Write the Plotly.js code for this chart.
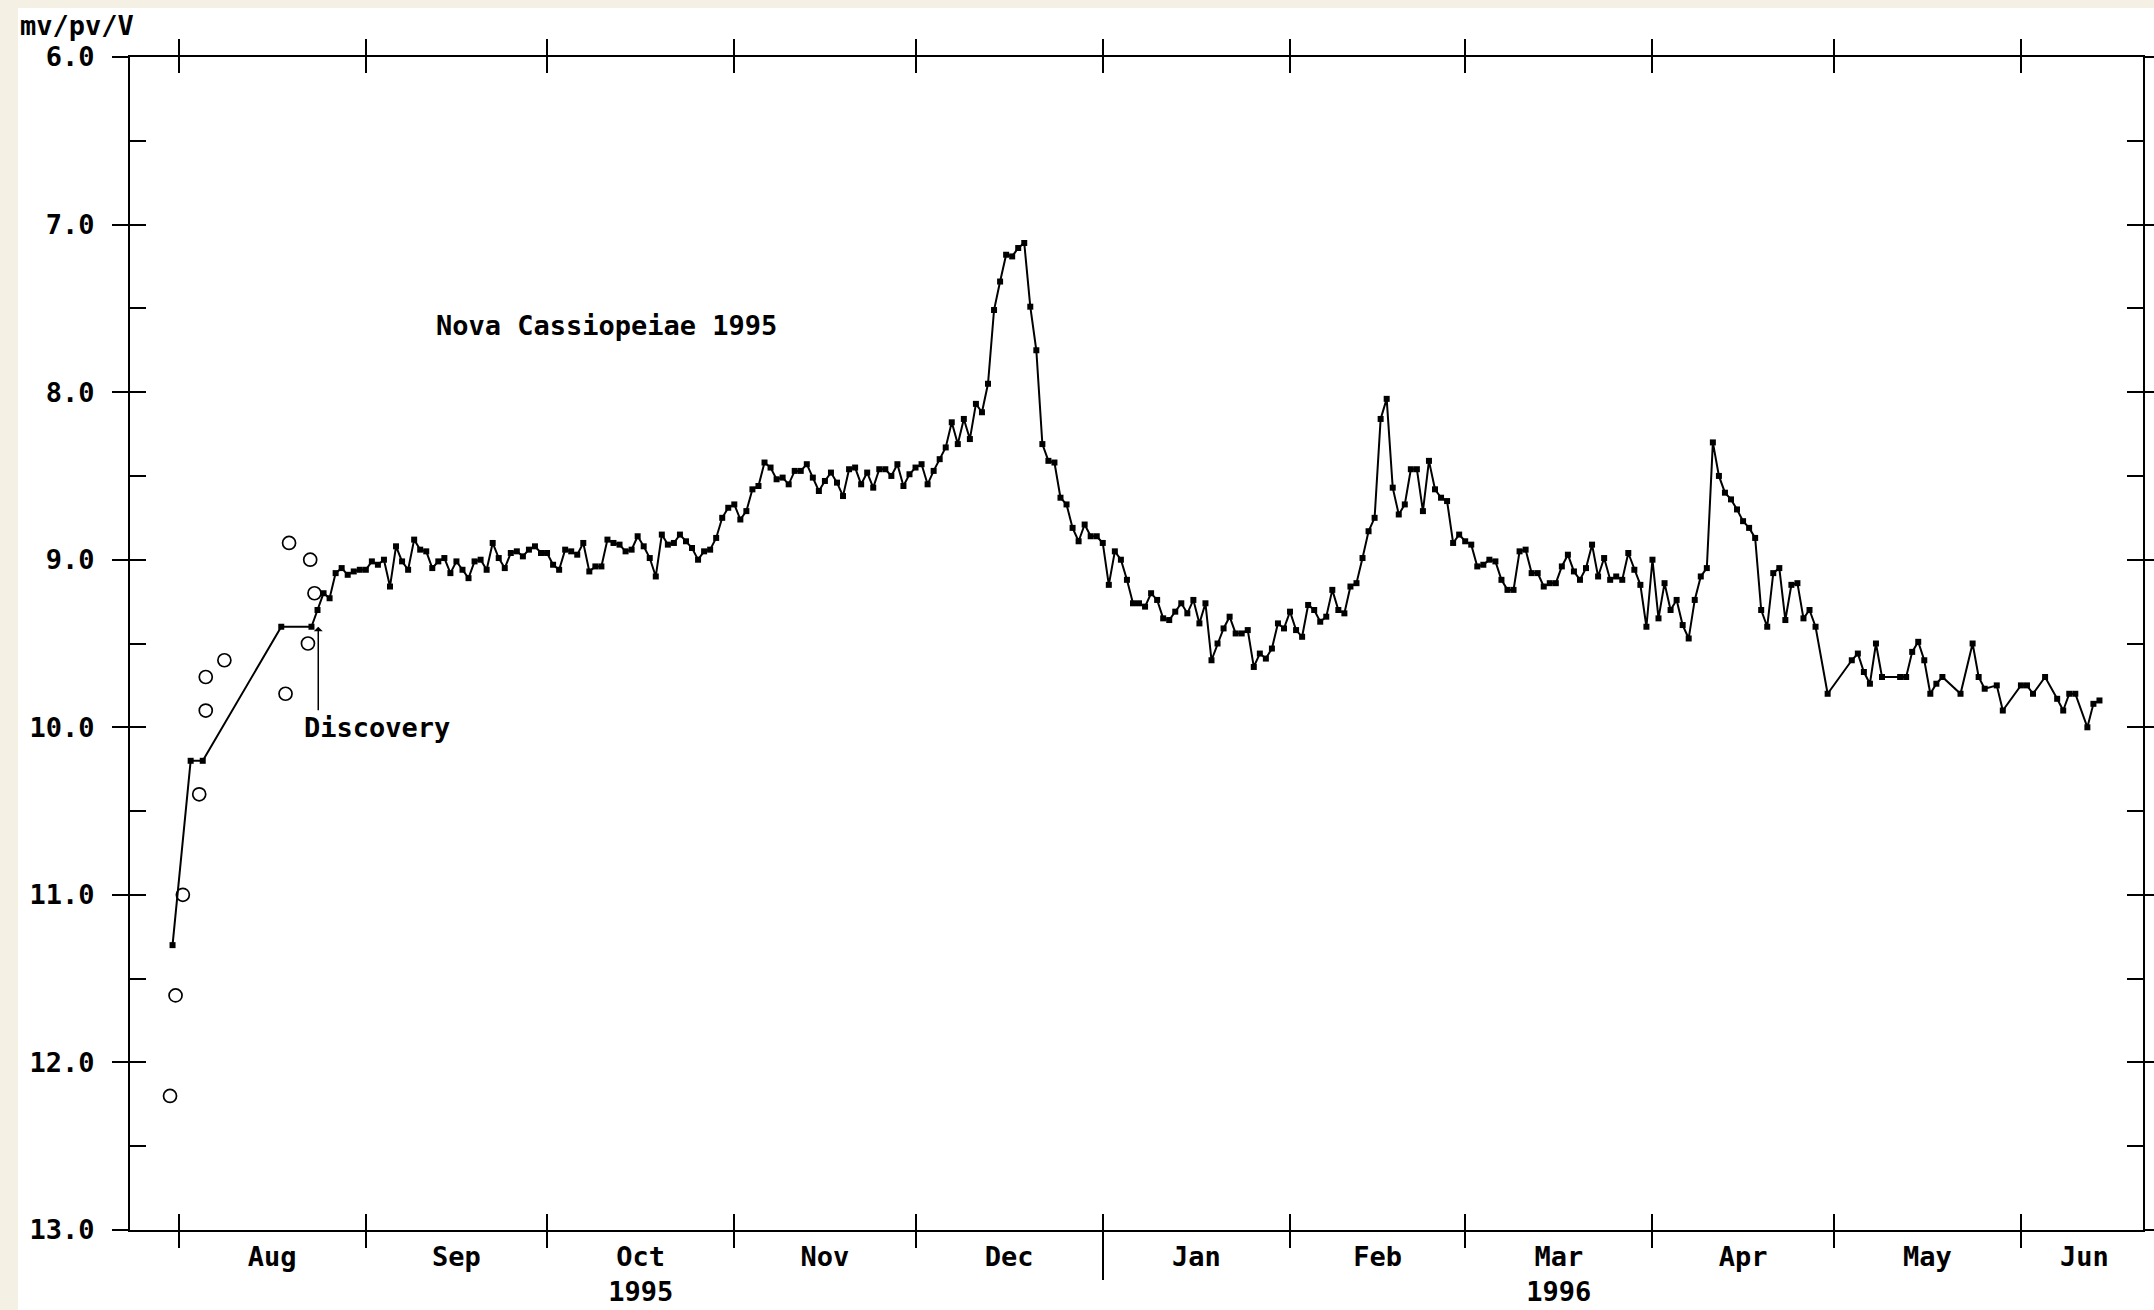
<!DOCTYPE html>
<html>
<head>
<meta charset="utf-8">
<script src="https://cdn.plot.ly/plotly-3.0.1.min.js"></script>
<style>
html,body{margin:0;padding:0;background:#f4f0e4;overflow:hidden;}
#chart{position:absolute;left:18px;top:8px;width:2136px;height:1302px;background:#ffffff;}
</style>
</head>
<body>
<div id="chart"></div>
<script>
// ---- visual estimates (mv/pv/V) ----
const obsDates = [
 '1995-07-31','1995-08-03','1995-08-05','1995-08-18','1995-08-23','1995-08-24','1995-08-25','1995-08-26','1995-08-27','1995-08-28','1995-08-29','1995-08-30','1995-08-31',
 '1995-09-01','1995-09-02','1995-09-03','1995-09-04','1995-09-05','1995-09-06','1995-09-07','1995-09-08','1995-09-09','1995-09-10',
 '1995-09-11','1995-09-12','1995-09-13','1995-09-14','1995-09-15','1995-09-16','1995-09-17','1995-09-18','1995-09-19','1995-09-20',
 '1995-09-21','1995-09-22','1995-09-23','1995-09-24','1995-09-25','1995-09-26','1995-09-27','1995-09-28','1995-09-29','1995-09-30',
 '1995-10-01','1995-10-02','1995-10-03','1995-10-04','1995-10-05','1995-10-06','1995-10-07','1995-10-08','1995-10-09','1995-10-10',
 '1995-10-11','1995-10-12','1995-10-13','1995-10-14','1995-10-15','1995-10-16','1995-10-17','1995-10-18','1995-10-19','1995-10-20',
 '1995-10-21','1995-10-22','1995-10-23','1995-10-24','1995-10-25','1995-10-26','1995-10-27','1995-10-28','1995-10-29','1995-10-30','1995-10-31',
 '1995-11-01','1995-11-02','1995-11-03','1995-11-04','1995-11-05','1995-11-06','1995-11-07','1995-11-08','1995-11-09','1995-11-10',
 '1995-11-11','1995-11-12','1995-11-13','1995-11-14','1995-11-15','1995-11-16','1995-11-17','1995-11-18','1995-11-19','1995-11-20',
 '1995-11-21','1995-11-22','1995-11-23','1995-11-24','1995-11-25','1995-11-26','1995-11-27','1995-11-28','1995-11-29','1995-11-30',
 '1995-12-01','1995-12-02','1995-12-03','1995-12-04','1995-12-05','1995-12-06','1995-12-07','1995-12-08','1995-12-09','1995-12-10',
 '1995-12-11','1995-12-12','1995-12-13','1995-12-14','1995-12-15','1995-12-16','1995-12-17','1995-12-18','1995-12-19','1995-12-20',
 '1995-12-21','1995-12-22','1995-12-23','1995-12-24','1995-12-25','1995-12-26','1995-12-27','1995-12-28','1995-12-29','1995-12-30','1995-12-31',
 '1996-01-01','1996-01-02','1996-01-03','1996-01-04','1996-01-05','1996-01-06','1996-01-07','1996-01-08','1996-01-09','1996-01-10',
 '1996-01-11','1996-01-12','1996-01-13','1996-01-14','1996-01-15','1996-01-16','1996-01-17','1996-01-18','1996-01-19','1996-01-20',
 '1996-01-21','1996-01-22','1996-01-23','1996-01-24','1996-01-25','1996-01-26','1996-01-27','1996-01-28','1996-01-29','1996-01-30','1996-01-31',
 '1996-02-01','1996-02-02','1996-02-03','1996-02-04','1996-02-05','1996-02-06','1996-02-07','1996-02-08','1996-02-09','1996-02-10',
 '1996-02-11','1996-02-12','1996-02-13','1996-02-14','1996-02-15','1996-02-16','1996-02-17','1996-02-18','1996-02-19','1996-02-20',
 '1996-02-21','1996-02-22','1996-02-23','1996-02-24','1996-02-25','1996-02-26','1996-02-27','1996-02-28','1996-02-29',
 '1996-03-01','1996-03-02','1996-03-03','1996-03-04','1996-03-05','1996-03-06','1996-03-07','1996-03-08','1996-03-09','1996-03-10',
 '1996-03-11','1996-03-12','1996-03-13','1996-03-14','1996-03-15','1996-03-16','1996-03-17','1996-03-18','1996-03-19','1996-03-20',
 '1996-03-21','1996-03-22','1996-03-23','1996-03-24','1996-03-25','1996-03-26','1996-03-27','1996-03-28','1996-03-29','1996-03-30','1996-03-31',
 '1996-04-01','1996-04-02','1996-04-03','1996-04-04','1996-04-05','1996-04-06','1996-04-07','1996-04-08','1996-04-09','1996-04-10',
 '1996-04-11','1996-04-12','1996-04-13','1996-04-14','1996-04-15','1996-04-16','1996-04-17','1996-04-18','1996-04-19','1996-04-20',
 '1996-04-21','1996-04-22','1996-04-23','1996-04-24','1996-04-25','1996-04-26','1996-04-27','1996-04-28','1996-04-30',
 '1996-05-04','1996-05-05','1996-05-06','1996-05-07','1996-05-08','1996-05-09','1996-05-12','1996-05-13','1996-05-14','1996-05-15',
 '1996-05-16','1996-05-17','1996-05-18','1996-05-19','1996-05-22','1996-05-24','1996-05-25','1996-05-26','1996-05-28','1996-05-29',
 '1996-06-01','1996-06-02','1996-06-03','1996-06-05','1996-06-07','1996-06-08','1996-06-09','1996-06-10','1996-06-12','1996-06-13','1996-06-14'
];
const obsMags = [
 11.30,10.20,10.20,9.40,9.40,9.30,9.20,9.23,9.08,9.05,9.09,9.07,9.06,
 9.06,9.01,9.03,9.00,9.16,8.92,9.01,9.06,8.88,8.94,
 8.95,9.05,9.01,8.99,9.08,9.01,9.06,9.11,9.01,9.00,
 9.06,8.90,8.99,9.05,8.96,8.95,8.98,8.94,8.92,8.96,
 8.96,9.03,9.06,8.94,8.95,8.97,8.90,9.07,9.04,9.04,
 8.88,8.90,8.91,8.95,8.94,8.86,8.92,8.99,9.10,8.85,
 8.91,8.90,8.85,8.89,8.93,9.00,8.95,8.94,8.87,8.75,8.69,
 8.67,8.76,8.71,8.58,8.56,8.42,8.45,8.52,8.51,8.55,
 8.47,8.47,8.43,8.51,8.59,8.53,8.48,8.54,8.62,8.46,
 8.45,8.55,8.48,8.57,8.46,8.46,8.50,8.43,8.56,8.49,
 8.45,8.43,8.55,8.47,8.40,8.33,8.18,8.31,8.16,8.28,
 8.07,8.12,7.95,7.51,7.34,7.18,7.19,7.14,7.11,7.49,
 7.75,8.31,8.41,8.42,8.63,8.67,8.81,8.89,8.79,8.86,8.86,
 8.90,9.15,8.95,9.00,9.12,9.26,9.26,9.28,9.20,9.24,
 9.35,9.36,9.31,9.26,9.32,9.24,9.38,9.26,9.60,9.50,
 9.41,9.34,9.44,9.44,9.42,9.64,9.56,9.59,9.53,9.38,9.41,
 9.31,9.42,9.46,9.27,9.30,9.37,9.34,9.18,9.30,9.32,
 9.16,9.14,8.99,8.83,8.75,8.16,8.04,8.57,8.73,8.67,
 8.46,8.46,8.71,8.41,8.58,8.63,8.65,8.90,8.85,
 8.89,8.91,9.04,9.03,9.00,9.01,9.12,9.18,9.18,8.95,
 8.94,9.08,9.08,9.16,9.14,9.14,9.04,8.97,9.07,9.12,
 9.05,8.91,9.10,8.99,9.12,9.10,9.12,8.96,9.06,9.15,9.40,
 9.00,9.35,9.14,9.30,9.24,9.39,9.47,9.24,9.10,9.05,
 8.30,8.50,8.60,8.64,8.70,8.77,8.81,8.87,9.30,9.40,
 9.08,9.05,9.36,9.15,9.14,9.35,9.30,9.40,9.80,
 9.60,9.56,9.67,9.74,9.50,9.70,9.70,9.70,9.55,9.49,
 9.60,9.80,9.74,9.70,9.80,9.50,9.70,9.77,9.75,9.90,
 9.75,9.75,9.80,9.70,9.83,9.90,9.80,9.80,10.00,9.86,9.84
];

// ---- pre-discovery estimates (open circles) ----
const preDates = [
 '1995-07-30 14:00','1995-07-31 12:00','1995-08-01 17:00','1995-08-04 10:00','1995-08-05 12:00','1995-08-05 12:00',
 '1995-08-08 14:00','1995-08-18 17:00','1995-08-19 07:00','1995-08-22 10:00','1995-08-22 19:00','1995-08-23 12:00'
];
const preMags = [12.2,11.6,11.0,10.4,9.9,9.7,9.6,9.8,8.9,9.5,9.0,9.2];

// ---- axes ----
const xRange = ['1995-07-23 23:00','1996-06-21 05:00'];
const yRange = [13, 6];
const monthTicks = ['1995-08-01','1995-09-01','1995-10-01','1995-11-01','1995-12-01','1996-01-01',
                    '1996-02-01','1996-03-01','1996-04-01','1996-05-01','1996-06-01'];
const yearTicks = ['1996-01-01'];
const labelDates = ['1995-08-16 12:00','1995-09-16','1995-10-16 12:00','1995-11-16','1995-12-16 12:00',
                    '1996-01-16 12:00','1996-02-15 12:00','1996-03-16 12:00','1996-04-16','1996-05-16 12:00','1996-06-11 12:00'];
const labelText = ['Aug','Sep','Oct<br>1995','Nov','Dec','Jan','Feb','Mar<br>1996','Apr','May','Jun'];

const discoveryDate = '1995-08-24 03:00';
const discoveryMag = 9.40;

const FONT = {family: 'DejaVu Sans Mono, Liberation Mono, monospace', size: 27, color: '#000', weight: 'bold'};
const AX = {showgrid:false, zeroline:false, automargin:false, fixedrange:true};

const traces = [
  {type:'scatter', mode:'markers', x:preDates, y:preMags, xaxis:'x', yaxis:'y',
   marker:{symbol:'circle-open', size:13, color:'#000', line:{width:1.7, color:'#000'}}, hoverinfo:'skip'},
  {type:'scatter', mode:'lines+markers', x:obsDates, y:obsMags, xaxis:'x', yaxis:'y',
   line:{color:'#000', width:2}, marker:{symbol:'square', size:6, color:'#000'}, hoverinfo:'skip'},
  {type:'scatter', x:[], y:[], xaxis:'x2', yaxis:'y', hoverinfo:'skip'},
  {type:'scatter', x:[], y:[], xaxis:'x3', yaxis:'y', hoverinfo:'skip'},
  {type:'scatter', x:[], y:[], xaxis:'x4', yaxis:'y', hoverinfo:'skip'},
  {type:'scatter', x:[], y:[], xaxis:'x', yaxis:'y2', hoverinfo:'skip'}
];

const layout = {
  width:2136, height:1302,
  margin:{l:112, r:11, t:49, b:80, pad:0},
  paper_bgcolor:'#ffffff', plot_bgcolor:'#ffffff',
  showlegend:false,
  font: FONT,
  xaxis: Object.assign({}, AX, {type:'date', range:xRange, autorange:false,
    tickmode:'array', tickvals:monthTicks, ticks:'outside', ticklen:16, tickwidth:2, tickcolor:'#000',
    showticklabels:false, showline:true, linecolor:'#000', linewidth:2, mirror:'ticks'}),
  xaxis2: Object.assign({}, AX, {type:'date', range:xRange, autorange:false, overlaying:'x', anchor:'y',
    tickmode:'array', tickvals:monthTicks, ticks:'inside', ticklen:16, tickwidth:2, tickcolor:'#000',
    showticklabels:false, showline:true, linecolor:'#000', linewidth:2, mirror:'ticks'}),
  xaxis3: Object.assign({}, AX, {type:'date', range:xRange, autorange:false, overlaying:'x', anchor:'y',
    tickmode:'array', tickvals:labelDates, ticktext:labelText, ticks:'', showline:false,
    tickfont:FONT, ticklabelstandoff:8}),
  xaxis4: Object.assign({}, AX, {type:'date', range:xRange, autorange:false, overlaying:'x', anchor:'y',
    tickmode:'array', tickvals:yearTicks, ticks:'outside', ticklen:49, tickwidth:2, tickcolor:'#000',
    showticklabels:false, showline:false}),
  yaxis: Object.assign({}, AX, {range:yRange, autorange:false, tickmode:'linear', tick0:6, dtick:1,
    ticks:'outside', ticklen:16, tickwidth:2, tickcolor:'#000', tickformat:'.1f', tickfont:FONT,
    showline:true, linecolor:'#000', linewidth:2, mirror:'ticks', ticklabelstandoff:12}),
  yaxis2: Object.assign({}, AX, {range:yRange, autorange:false, overlaying:'y', anchor:'x',
    tickmode:'linear', tick0:6, dtick:0.5, ticks:'inside', ticklen:16, tickwidth:2, tickcolor:'#000',
    showticklabels:false, showline:true, linecolor:'#000', linewidth:2, mirror:'ticks'}),
  annotations:[
    {xref:'paper', yref:'paper', x:-0.0556, y:1.0265, xanchor:'left', yanchor:'middle',
     text:'mv/pv/V', showarrow:false, font:FONT},
    {xref:'paper', yref:'paper', x:0.1512, y:0.771, xanchor:'left', yanchor:'middle',
     text:'Nova Cassiopeiae 1995', showarrow:false, font:FONT},
    {xref:'paper', yref:'paper', x:0.0852, y:0.4288, xanchor:'left', yanchor:'middle',
     text:'Discovery', showarrow:false, font:FONT},
    {xref:'x', yref:'y', x:discoveryDate, y:discoveryMag, text:'', showarrow:true,
     ax:0, ay:85, arrowhead:1, arrowsize:1, arrowwidth:1.5, arrowcolor:'#000', standoff:0}
  ]
};

Plotly.newPlot('chart', traces, layout, {displayModeBar:false, staticPlot:true});
</script>
</body>
</html>
